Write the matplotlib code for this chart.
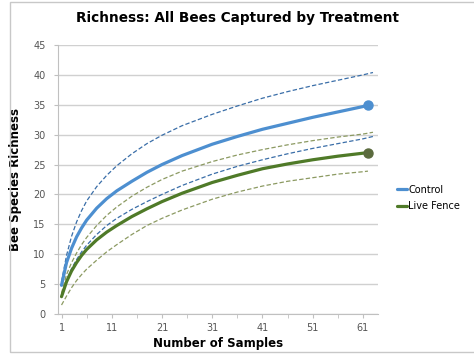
import matplotlib.pyplot as plt
from matplotlib.patches import Rectangle

samples = [1, 2, 3, 4, 5, 6, 8, 10, 12, 15, 18, 21, 25, 31, 36, 41, 46, 51, 56, 61, 62]
samples_ci = samples[:-1] + [63]
samples_lf_low = samples

control_mean = [4.8, 8.6, 11.0, 12.9, 14.4, 15.7, 17.7, 19.3, 20.6, 22.2, 23.7, 25.0,
                26.5, 28.4, 29.7, 30.9, 31.9, 32.9, 33.8, 34.7, 34.9]
control_upper = [5.4, 9.8, 13.0, 15.4, 17.3, 18.9, 21.3, 23.2, 24.8, 26.8, 28.5, 29.9,
                 31.5, 33.4, 34.8, 36.1, 37.2, 38.2, 39.1, 40.0, 40.4]
control_lower = [2.9, 5.6, 7.6, 9.1, 10.4, 11.5, 13.3, 14.8, 16.0, 17.5, 18.8, 20.0,
                 21.5, 23.4, 24.7, 25.8, 26.8, 27.7, 28.5, 29.3, 29.7]
live_mean = [2.9, 5.4, 7.2, 8.6, 9.8, 10.8, 12.4, 13.7, 14.8, 16.3, 17.6, 18.8,
             20.2, 22.0, 23.2, 24.3, 25.1, 25.8, 26.4, 26.9, 27.0]
live_upper = [3.5, 6.6, 8.6, 10.2, 11.6, 12.8, 14.8, 16.5, 17.9, 19.7, 21.2, 22.5,
              23.9, 25.5, 26.6, 27.5, 28.3, 29.0, 29.6, 30.1, 30.4]
live_lower = [1.5, 3.0, 4.4, 5.6, 6.6, 7.5, 9.0, 10.4, 11.6, 13.3, 14.8, 16.0,
              17.4, 19.2, 20.4, 21.4, 22.2, 22.8, 23.4, 23.8, 23.9]

x_ticks = [1, 11, 21, 31, 41, 51, 61]
y_ticks = [0, 5, 10, 15, 20, 25, 30, 35, 40, 45]

blue = "#4d8fd0"
blue_dash = "#3a6ea8"
green = "#4f7a28"
green_dash = "#8c9a62"

fig = plt.figure(figsize=(4.74, 3.58), dpi=100)
fig.patch.set_facecolor("white")
fig.patches.append(Rectangle((10 / 474, 6 / 358), 470 / 474, 350 / 358, transform=fig.transFigure,
                             fill=False, edgecolor="#c8c8c8", linewidth=1.0))

ax = fig.add_axes([58 / 474, 1 - 314 / 358, 320 / 474, 269 / 358])

dash = (0, (3.5, 1.8))
ax.plot(samples_ci, control_upper, color=blue_dash, lw=0.9, ls=dash)
ax.plot(samples_ci, control_lower, color=blue_dash, lw=0.9, ls=dash)
ax.plot(samples_ci, live_upper, color=green_dash, lw=0.9, ls=dash)
ax.plot(samples_lf_low, live_lower, color=green_dash, lw=0.9, ls=dash)
ax.plot(samples, control_mean, color=blue, lw=2.3, solid_capstyle="round",
        solid_joinstyle="round", label="Control")
ax.plot(samples, live_mean, color=green, lw=2.3, solid_capstyle="round",
        solid_joinstyle="round", label="Live Fence")
ax.plot(samples[-1], control_mean[-1], "o", color=blue, ms=6.5)
ax.plot(samples[-1], live_mean[-1], "o", color="#5b6b3e", ms=6.5)

ax.set_xlim(0.3, 64.0)
ax.set_ylim(0, 45)
ax.set_xticks(x_ticks)
ax.set_xticks(range(6, 64, 10), minor=True)
ax.set_yticks(y_ticks)
ax.yaxis.grid(True, color="#d0d0d0", lw=1.0)
ax.set_axisbelow(True)
for side in ("top", "right"):
    ax.spines[side].set_visible(False)
for side in ("left", "bottom"):
    ax.spines[side].set_color("#c0c0c0")
ax.tick_params(axis="both", which="both", colors="#c0c0c0", labelcolor="#555555",
               labelsize=7, length=3)
ax.tick_params(axis="y", direction="out", pad=6)

ax.set_xlabel("Number of Samples", fontsize=8.5, fontweight="bold", labelpad=3)
ax.set_ylabel("Bee Species Richness", fontsize=8.5, fontweight="bold", labelpad=8)
fig.text(0.5, 1 - 18 / 358, "Richness: All Bees Captured by Treatment", ha="center", va="center",
         fontsize=9.8, fontweight="bold")

fig.legend(loc="center left", bbox_to_anchor=(388 / 474, 1 - 198 / 358), frameon=False,
           fontsize=7, handlelength=1.1, handletextpad=0.1, labelspacing=0.7)

fig.savefig("out.png", dpi=100)
